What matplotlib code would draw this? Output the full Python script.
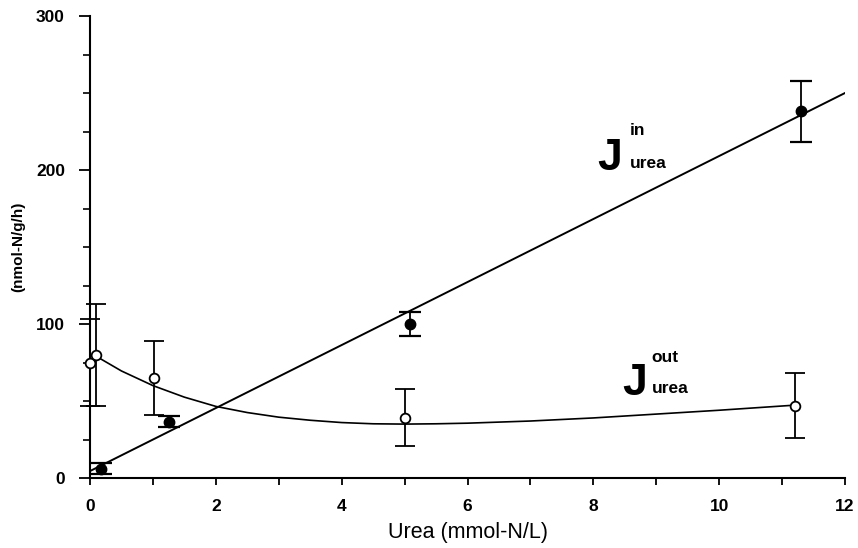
import matplotlib
matplotlib.use("Agg")
import matplotlib.pyplot as plt
from matplotlib.ticker import MultipleLocator

plt.rcParams["font.family"] = ["Liberation Sans", "DejaVu Sans"]

# J_in (filled circles)
jin_x = [0.17, 1.25, 5.08, 11.3]
jin_y = [6, 36.5, 100, 238]
jin_err = [3.5, 3.5, 8, 20]

# J_out (open circles)
jout_x = [0.0, 0.1, 1.02, 5.0, 11.2]
jout_y = [75, 80, 65, 39, 47]
jout_err = [28, 33, 24, 18.5, 21]

# fitted line for J_in
jin_fit_x = [0, 12]
jin_fit_y = [4.5, 250]

# fitted curve for J_out
jout_fit_x = [0.1, 0.5, 1.0, 1.5, 2.0, 2.5, 3.0, 3.5, 4.0, 4.5, 5.0, 5.5,
              6.0, 7.0, 8.0, 9.0, 10.0, 11.2]
jout_fit_y = [79, 69.5, 60, 52.5, 46.5, 42.5, 39.5, 37.5, 36, 35.2, 35,
              35.2, 35.6, 37, 39, 41.5, 44, 47.3]

fig = plt.figure(figsize=(8.58, 5.48), dpi=100)
ax = fig.add_axes([90 / 858, 70 / 548, 755 / 858, 462 / 548])

ax.plot(jin_fit_x, jin_fit_y, color="black", lw=1.4, zorder=2)
ax.plot(jout_fit_x, jout_fit_y, color="black", lw=1.2, zorder=2)

ax.errorbar(jin_x, jin_y, yerr=jin_err, fmt="o", color="black",
            markersize=7.5, ecolor="black", elinewidth=1.3, capsize=8,
            capthick=1.6, zorder=3, clip_on=False)
ax.errorbar(jout_x, jout_y, yerr=jout_err, fmt="o", color="black",
            markerfacecolor="white", markeredgewidth=1.3, markersize=7,
            ecolor="black", elinewidth=1.3, capsize=7, capthick=1.6,
            zorder=3, clip_on=False)

ax.set_xlim(0, 12)
ax.set_ylim(0, 300)
ax.spines["top"].set_visible(False)
ax.spines["right"].set_visible(False)
ax.spines["left"].set_linewidth(1.5)
ax.spines["bottom"].set_linewidth(1.5)

ax.xaxis.set_major_locator(MultipleLocator(2))
ax.xaxis.set_minor_locator(MultipleLocator(1))
ax.yaxis.set_major_locator(MultipleLocator(100))
ax.yaxis.set_minor_locator(MultipleLocator(25))
ax.tick_params(axis="x", which="both", direction="out", length=5, width=1.3,
               pad=10)
ax.tick_params(axis="y", which="major", direction="out", length=8, width=1.3,
               pad=10)
ax.tick_params(axis="y", which="minor", direction="out", length=5, width=1.2)
for lab in ax.get_xticklabels() + ax.get_yticklabels():
    lab.set_fontsize(12.5)
    lab.set_fontweight("bold")

ax.set_xlabel("Urea (mmol-N/L)", fontsize=15.5, labelpad=6)
fig.text(18 / 858, 1 - 247 / 548, "(nmol-N/g/h)", rotation=90,
         fontsize=11, fontweight="bold", ha="center", va="center")

# curve labels
ax.text(8.06, 200, "J", fontsize=32, fontweight="bold", va="baseline")
ax.text(8.58, 222.5, "in", fontsize=12.5, fontweight="bold", va="baseline")
ax.text(8.58, 201, "urea", fontsize=12.5, fontweight="bold", va="baseline")

ax.text(8.46, 54, "J", fontsize=32, fontweight="bold", va="baseline")
ax.text(8.93, 75, "out", fontsize=12.5, fontweight="bold", va="baseline")
ax.text(8.93, 55, "urea", fontsize=12.5, fontweight="bold", va="baseline")

fig.savefig("out.png", dpi=100)
